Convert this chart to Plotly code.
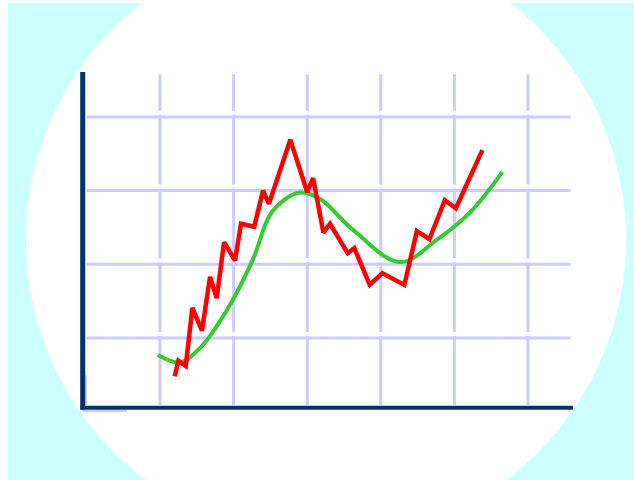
import plotly.graph_objects as go

# Red (jagged) series
red_x = [1.20, 1.25, 1.35, 1.44, 1.57, 1.68, 1.77, 1.87, 2.02, 2.10, 2.28, 2.40, 2.48,
         2.77, 3.00, 3.08, 3.22, 3.31, 3.55, 3.64, 3.85, 4.02, 4.32, 4.49, 4.66, 4.87,
         5.02, 5.38]
red_y = [0.48, 0.69, 0.62, 1.41, 1.10, 1.83, 1.54, 2.30, 2.05, 2.55, 2.51, 3.00, 2.82,
         3.69, 2.98, 3.17, 2.43, 2.55, 2.15, 2.22, 1.72, 1.88, 1.72, 2.45, 2.34, 2.87,
         2.76, 3.55]

# Green (smooth) series
green_x = [0.97, 1.27, 1.54, 1.91, 2.26, 2.52, 2.88, 3.17, 3.62, 4.26, 4.76, 5.21, 5.65]
green_y = [0.77, 0.67, 0.86, 1.38, 2.06, 2.71, 2.97, 2.89, 2.47, 2.03, 2.33, 2.70, 3.25]

# Grid positions
vgrid = [1, 2, 3, 4, 5, 6]
hgrid = [1, 2, 3, 4]

GRID = "#ccccff"
AXIS = "#003366"

fig = go.Figure()

shapes = []
# cyan background and white circle (decoration, paper coords)
shapes.append(dict(type="rect", xref="paper", yref="paper", x0=8/634, x1=1.0,
                   y0=0, y1=1 - 3/480, fillcolor="#ccffff", line_width=0, layer="below"))
shapes.append(dict(type="circle", xref="paper", yref="paper",
                   x0=26/634, x1=626/634, y0=1 - 540/480, y1=1 + 60/480,
                   fillcolor="#ffffff", line_width=0, layer="below"))
# vertical grid lines
for gx in vgrid:
    shapes.append(dict(type="line", xref="x", yref="y", x0=gx, x1=gx, y0=0.09, y1=4.58,
                       line=dict(color=GRID, width=3), layer="below"))
# white gaps just above horizontal lines
for gy in hgrid:
    shapes.append(dict(type="line", xref="x", yref="y", x0=0.5, x1=6.5, y0=gy + 0.055,
                       y1=gy + 0.055, line=dict(color="#ffffff", width=4), layer="below"))
# horizontal grid lines
for gy in hgrid:
    shapes.append(dict(type="line", xref="x", yref="y", x0=0.0, x1=6.58, y0=gy, y1=gy,
                       line=dict(color=GRID, width=3), layer="below"))
# small lavender artifacts near origin
shapes.append(dict(type="line", xref="x", yref="y", x0=-0.05, x1=0.55, y0=0.01, y1=0.01,
                   line=dict(color=GRID, width=2), layer="below"))
shapes.append(dict(type="line", xref="x", yref="y", x0=-0.005, x1=-0.005, y0=0.09, y1=0.49,
                   line=dict(color=GRID, width=2), layer="below"))
# axes
shapes.append(dict(type="line", xref="x", yref="y", x0=-0.05, x1=-0.05, y0=0.03, y1=4.61,
                   line=dict(color=AXIS, width=5), layer="below"))
shapes.append(dict(type="line", xref="x", yref="y", x0=-0.08, x1=6.61, y0=0.055, y1=0.055,
                   line=dict(color=AXIS, width=4), layer="below"))

fig.add_trace(go.Scatter(x=green_x, y=green_y, mode="lines",
                         line=dict(color="#33cc33", width=4, shape="spline", smoothing=1.0),
                         hoverinfo="skip", showlegend=False))
fig.add_trace(go.Scatter(x=red_x, y=red_y, mode="lines",
                         line=dict(color="#ff0000", width=4.5),
                         hoverinfo="skip", showlegend=False))

fig.update_layout(
    width=634, height=480,
    margin=dict(l=0, r=0, t=0, b=0),
    paper_bgcolor="#ffffff", plot_bgcolor="rgba(0,0,0,0)",
    shapes=shapes,
    showlegend=False,
)
fig.update_xaxes(range=[-86.4/73.6, (634-86.4)/73.6], visible=False, fixedrange=True)
fig.update_yaxes(range=[(411.7-480)/73.7, 411.7/73.7], visible=False, fixedrange=True)

fig.write_html("out.html", config={"displayModeBar": False},
               post_script="document.body.style.margin='0';document.body.style.overflow='hidden';")
